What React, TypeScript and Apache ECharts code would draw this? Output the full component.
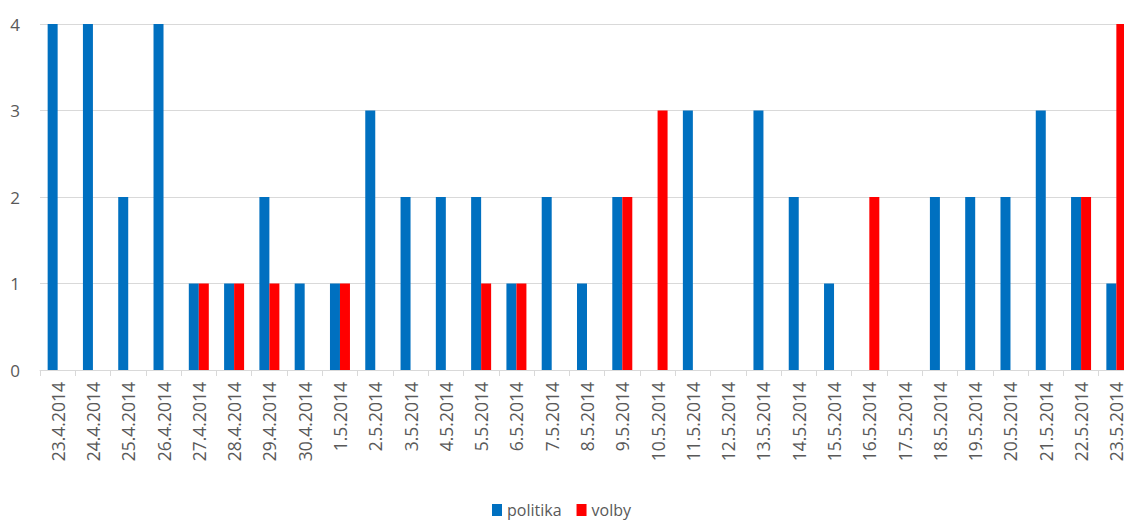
import React, { useEffect, useRef } from "react";
import * as echarts from "echarts";

const categories = [
  "23.4.2014", "24.4.2014", "25.4.2014", "26.4.2014", "27.4.2014", "28.4.2014",
  "29.4.2014", "30.4.2014", "1.5.2014", "2.5.2014", "3.5.2014", "4.5.2014",
  "5.5.2014", "6.5.2014", "7.5.2014", "8.5.2014", "9.5.2014", "10.5.2014",
  "11.5.2014", "12.5.2014", "13.5.2014", "14.5.2014", "15.5.2014", "16.5.2014",
  "17.5.2014", "18.5.2014", "19.5.2014", "20.5.2014", "21.5.2014", "22.5.2014",
  "23.5.2014",
];

const politika = [4, 4, 2, 4, 1, 1, 2, 1, 1, 3, 2, 2, 2, 1, 2, 1, 2, 0, 3, 0, 3, 2, 1, 0, 0, 2, 2, 2, 3, 2, 1];
const volby = [0, 0, 0, 0, 1, 1, 1, 0, 1, 0, 0, 0, 1, 1, 0, 0, 2, 3, 0, 0, 0, 0, 0, 2, 0, 0, 0, 0, 0, 2, 4];

const yTicks = [0, 1, 2, 3, 4];

export default function App() {
  const ref = useRef<HTMLDivElement>(null);
  useEffect(() => {
    document.body.style.margin = "0";
    document.body.style.overflow = "hidden";
    document.documentElement.style.overflow = "hidden";
    if (!ref.current) return;
    const chart = echarts.init(ref.current, undefined, { renderer: "svg" });
    const font = "Open Sans";
    chart.setOption({
      animation: false,
      textStyle: { fontFamily: font },
      grid: { left: 40, right: 0, top: 24, bottom: 150, containLabel: false },
      legend: {
        top: 497,
        left: 487,
        itemWidth: 10,
        itemHeight: 12,
        itemGap: 15,
        icon: "rect",
        textStyle: { color: "#595959", fontSize: 16, fontFamily: font },
        data: ["politika", "volby"],
      },
      xAxis: {
        type: "category",
        data: categories,
        axisLine: { lineStyle: { color: "#d9d9d9", width: 1 } },
        axisTick: { show: true, length: 6, lineStyle: { color: "#d9d9d9" } },
        axisLabel: {
          rotate: 90,
          interval: 0,
          margin: 12,
          color: "#595959",
          fontSize: 17.5,
          fontFamily: font,
        },
      },
      yAxis: {
        type: "value",
        min: yTicks[0],
        max: yTicks[yTicks.length - 1],
        interval: 1,
        axisLine: { show: false },
        axisTick: { show: false },
        axisLabel: { color: "#595959", fontSize: 17, margin: 20, fontFamily: font },
        splitLine: { lineStyle: { color: "#d9d9d9", width: 1 } },
      },
      series: [
        {
          name: "politika",
          type: "bar",
          data: politika,
          barWidth: 10,
          barGap: "0%",
          itemStyle: { color: "#0070C0" },
        },
        {
          name: "volby",
          type: "bar",
          data: volby,
          barWidth: 10,
          barGap: "0%",
          itemStyle: { color: "#FF0000" },
        },
      ],
    });
    return () => chart.dispose();
  }, []);
  return (
    <div style={{ width: 1124, height: 520, overflow: "hidden", position: "relative" }}>
      <div ref={ref} style={{ width: 1134, height: 520, position: "absolute", left: 0, top: 0 }} />
    </div>
  );
}
